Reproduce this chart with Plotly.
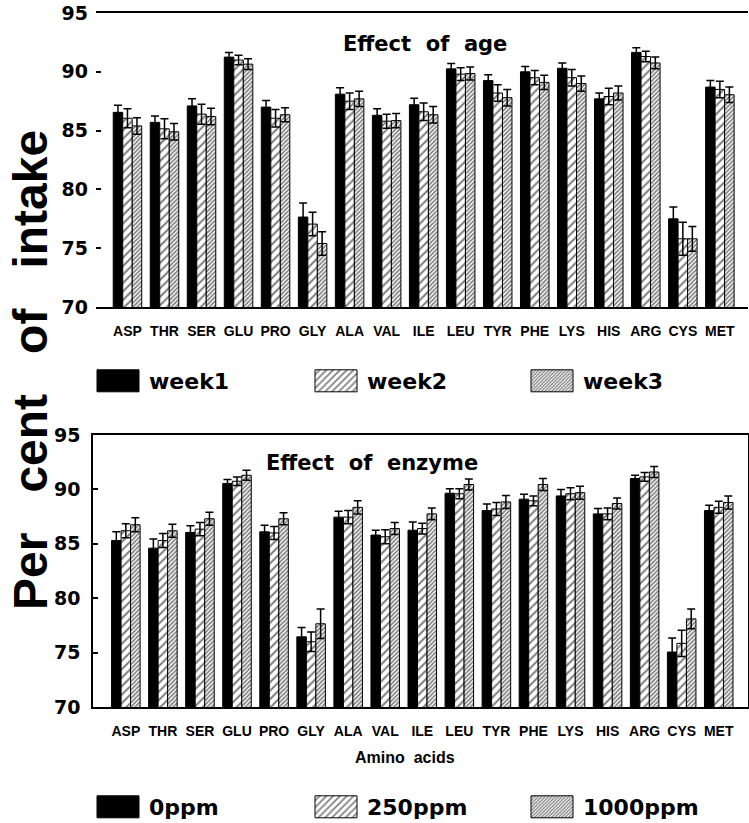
import plotly.graph_objects as go

categories = ["ASP", "THR", "SER", "GLU", "PRO", "GLY", "ALA", "VAL", "ILE",
              "LEU", "TYR", "PHE", "LYS", "HIS", "ARG", "CYS", "MET"]
y_ticks = [70, 75, 80, 85, 90, 95]

# Effect of age
week1 = [86.55, 85.7, 87.1, 91.25, 87.0, 77.65, 88.1, 86.3, 87.2, 90.25, 89.25, 90.0, 90.3, 87.7, 91.65, 77.5, 88.7]
week2 = [86.05, 85.15, 86.4, 91.0, 86.05, 77.05, 87.5, 85.8, 86.6, 89.8, 88.2, 89.5, 89.5, 87.9, 91.3, 75.8, 88.5]
week3 = [85.4, 84.9, 86.2, 90.65, 86.35, 75.4, 87.7, 85.85, 86.35, 89.85, 87.8, 89.1, 89.0, 88.2, 90.75, 75.8, 88.05]
week1_err = [0.6, 0.55, 0.6, 0.4, 0.55, 1.2, 0.55, 0.55, 0.55, 0.45, 0.5, 0.45, 0.45, 0.5, 0.4, 1.0, 0.55]
week2_err = [0.8, 0.85, 0.85, 0.4, 0.75, 1.0, 0.7, 0.6, 0.75, 0.55, 0.7, 0.6, 0.7, 0.7, 0.45, 1.4, 0.7]
week3_err = [0.7, 0.7, 0.7, 0.45, 0.6, 1.0, 0.65, 0.6, 0.7, 0.55, 0.7, 0.6, 0.65, 0.6, 0.5, 1.05, 0.65]

# Effect of enzyme
ppm0 = [85.3, 84.6, 86.05, 90.55, 86.1, 76.45, 87.45, 85.8, 86.25, 89.65, 88.05, 89.1, 89.4, 87.75, 91.0, 75.05, 88.05]
ppm250 = [86.2, 85.3, 86.35, 90.75, 86.0, 76.0, 87.45, 85.65, 86.4, 89.6, 88.2, 88.95, 89.6, 87.75, 91.15, 75.85, 88.35]
ppm1000 = [86.75, 86.2, 87.3, 91.3, 87.3, 77.65, 88.35, 86.4, 87.75, 90.45, 88.85, 90.45, 89.7, 88.7, 91.6, 78.1, 88.8]
ppm0_err = [0.8, 0.85, 0.6, 0.35, 0.6, 0.85, 0.55, 0.45, 0.75, 0.4, 0.6, 0.45, 0.6, 0.5, 0.3, 1.3, 0.5]
ppm250_err = [0.65, 0.65, 0.6, 0.4, 0.6, 0.9, 0.6, 0.65, 0.5, 0.45, 0.6, 0.45, 0.55, 0.55, 0.4, 1.2, 0.55]
ppm1000_err = [0.65, 0.6, 0.6, 0.45, 0.55, 1.35, 0.6, 0.55, 0.55, 0.5, 0.6, 0.55, 0.6, 0.5, 0.5, 0.9, 0.6]

BOLD = "Liberation Sans"
WIDE = "DejaVu Sans"

styles = [
    dict(color="black"),
    dict(color="white", pattern=dict(shape="/", fgcolor="black", bgcolor="white", size=6, solidity=0.35)),
    dict(color="white", pattern=dict(shape="/", fgcolor="black", bgcolor="white", size=3, solidity=0.55)),
]

# the page's body margin is removed (see post script), so figure pixels = window pixels
W, H = 749, 823
ml, mr, mt, mb = 93, 1, 13, 0
pw, ph = W - ml - mr, H - mt - mb


def px_x(x):
    return (x - ml) / pw


def px_y(y):
    return (H - mb - y) / ph


fig = go.Figure()
legend_names = ["legend", "legend2", "legend3", "legend4", "legend5", "legend6"]


def add_group(names, values, errs, xa, ya, legends):
    for name, vals, err, st, lg in zip(names, values, errs, styles, legends):
        fig.add_trace(go.Bar(
            x=categories, y=vals, name=name, xaxis=xa, yaxis=ya, legend=lg,
            marker=dict(line=dict(color="black", width=1), **st),
            error_y=dict(type="data", array=err, color="black", thickness=1.5, width=4),
        ))


add_group(["week1", "week2", "week3"], [week1, week2, week3],
          [week1_err, week2_err, week3_err], "x", "y", legend_names[:3])
add_group(["0ppm", "250ppm", "1000ppm"], [ppm0, ppm250, ppm1000],
          [ppm0_err, ppm250_err, ppm1000_err], "x2", "y2", legend_names[3:])

xcommon = dict(type="category", showline=True, linecolor="black", linewidth=1.5, mirror=True,
               ticks="", showgrid=False,
               tickfont=dict(family="Liberation Sans Narrow, Liberation Sans", size=14, color="black", weight="bold"),
               ticklabelstandoff=10)
ycommon = dict(range=[70, 95], tickvals=y_ticks, showgrid=False, zeroline=False,
               ticks="inside", ticklen=5, tickcolor="black", tickwidth=1.5, ticklabelstandoff=7,
               ticklabeloverflow="allow",
               tickfont=dict(family=WIDE, size=19, color="black", weight="bold"))

legend_common = dict(xanchor="left", yanchor="middle", itemwidth=52, bgcolor="rgba(0,0,0,0)",
                     font=dict(family=WIDE, size=22, color="black", weight="bold"))
legend_pos = [(87, 381), (305, 381), (521, 381), (87, 807), (305, 807), (521, 807)]

layout_legends = {name: dict(x=px_x(lx), y=px_y(ly), **legend_common)
                  for name, (lx, ly) in zip(legend_names, legend_pos)}

fig.update_layout(
    width=W, height=H,
    margin=dict(l=ml, r=mr, t=mt, b=mb, autoexpand=False),
    plot_bgcolor="white", paper_bgcolor="white",
    hovermode=False,
    barmode="group", bargap=0.23, bargroupgap=0,
    xaxis=dict(domain=[px_x(96), 1], anchor="y", range=[-0.85, 16.76], **xcommon),
    yaxis=dict(domain=[px_y(307), px_y(13)], anchor="x", showline=False, **ycommon),
    xaxis2=dict(domain=[0, 1], anchor="y2", range=[-0.886, 16.79], **xcommon),
    yaxis2=dict(domain=[px_y(707), px_y(435)], anchor="x2", showline=True, linecolor="black",
                linewidth=1.5, mirror=True, **ycommon),
    showlegend=True,
    **layout_legends,
)

fig.add_annotation(text="Effect\u00a0 of\u00a0 age", xref="paper", yref="paper",
                   x=px_x(425), y=px_y(44), showarrow=False, xanchor="center", yanchor="middle",
                   font=dict(family=WIDE, size=21, color="black", weight="bold"))
fig.add_annotation(text="Effect\u00a0 of\u00a0 enzyme", xref="paper", yref="paper",
                   x=px_x(372), y=px_y(463), showarrow=False, xanchor="center", yanchor="middle",
                   font=dict(family=WIDE, size=21, color="black", weight="bold"))
fig.add_annotation(text="Amino\u00a0 acids", xref="paper", yref="paper",
                   x=px_x(405), y=px_y(757), showarrow=False, xanchor="center", yanchor="middle",
                   font=dict(family=BOLD, size=16, color="black", weight="bold"))
fig.add_annotation(text="Per\u00a0\u00a0 cent\u00a0\u00a0 of\u00a0\u00a0 intake",
                   xref="paper", yref="paper", x=px_x(30), y=px_y(370), showarrow=False,
                   textangle=-90, xanchor="center", yanchor="middle",
                   font=dict(family=BOLD, size=48, color="black", weight="bold"))

# remove the page margin and enlarge the legend swatches to the big squares of the original
post_js = """
document.body.style.margin = '0';
var gd = document.getElementById('{plot_id}');
gd.querySelectorAll('.legendpoints path').forEach(function(p){
    p.setAttribute('d', 'M21,11H-21V-11H21Z');
});
"""

fig.write_html("out.html", post_script=post_js, config={"displayModeBar": False})
